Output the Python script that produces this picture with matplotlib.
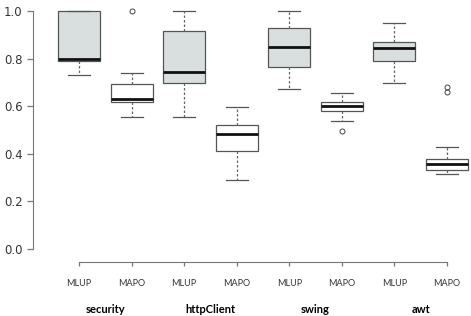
import matplotlib
matplotlib.use("Agg")
import matplotlib.pyplot as plt

groups = ["security", "httpClient", "swing", "awt"]
methods = ["MLUP", "MAPO"]

# box stats per box, order: security MLUP, security MAPO, httpClient MLUP, ...
whislo = [0.73, 0.556, 0.553, 0.29, 0.674, 0.539, 0.696, 0.314]
q1 = [0.79, 0.619, 0.696, 0.413, 0.766, 0.58, 0.792, 0.332]
med = [0.80, 0.63, 0.742, 0.483, 0.849, 0.60, 0.846, 0.357]
q3 = [1.0, 0.692, 0.917, 0.521, 0.929, 0.618, 0.868, 0.377]
whishi = [1.0, 0.74, 1.0, 0.595, 1.0, 0.654, 0.951, 0.427]
fliers = [[], [1.0], [], [], [], [0.497], [], [0.682, 0.658]]

yticks = [0.0, 0.2, 0.4, 0.6, 0.8, 1.0]

stats = []
for i in range(len(med)):
    stats.append(dict(whislo=whislo[i], q1=q1[i], med=med[i], q3=q3[i],
                      whishi=whishi[i], fliers=fliers[i]))

fig = plt.figure(figsize=(4.71, 3.16), dpi=100)
ax = fig.add_axes([33 / 471, (316 - 262) / 316, 437 / 471, 257 / 316])

pos = list(range(1, len(stats) + 1))
bp = ax.bxp(stats, positions=pos, widths=0.8, patch_artist=True,
            boxprops=dict(edgecolor="#555555", linewidth=0.9),
            medianprops=dict(color="#111111", linewidth=2.0),
            whiskerprops=dict(color="#666666", linewidth=0.9, linestyle=(0, (2, 1.6))),
            capprops=dict(color="#555555", linewidth=0.9),
            flierprops=dict(marker="o", markersize=3.6, markerfacecolor="none",
                            markeredgecolor="#444444", markeredgewidth=0.7))
for i, b in enumerate(bp["boxes"]):
    b.set_facecolor("#d9dfdf" if i % 2 == 0 else "white")
for c in bp["caps"]:
    x0, x1 = c.get_xdata()
    m = (x0 + x1) / 2
    c.set_xdata([m - 0.21, m + 0.21])

ax.set_xlim(0.125, 8.44)
ax.set_ylim((249 - 262) / 238, (249 - 5) / 238)

for s in ["top", "right"]:
    ax.spines[s].set_visible(False)
ax.spines["left"].set_bounds(0, 1)
ax.spines["bottom"].set_bounds(1, 8)
ax.spines["left"].set_color("#777777")
ax.spines["bottom"].set_color("#777777")

ax.set_yticks(yticks)
ax.set_yticklabels(["%.1f" % v for v in yticks], fontsize=8.5, color="#333333")
ax.tick_params(axis="y", length=4.5, width=0.9, color="#777777", pad=3)

ax.set_xticks(pos)
ax.set_xticklabels(methods * len(groups), fontsize=6.5, family="Lato", color="#333333")
ax.tick_params(axis="x", length=3, width=0.9, color="#777777", pad=9)

for g, name in enumerate(groups):
    ax.text(2 * g + 1.5, -0.183, name, transform=ax.get_xaxis_transform(),
            ha="center", va="center", fontsize=8, family="Lato", fontweight="bold")

fig.savefig("out.png", dpi=100)
